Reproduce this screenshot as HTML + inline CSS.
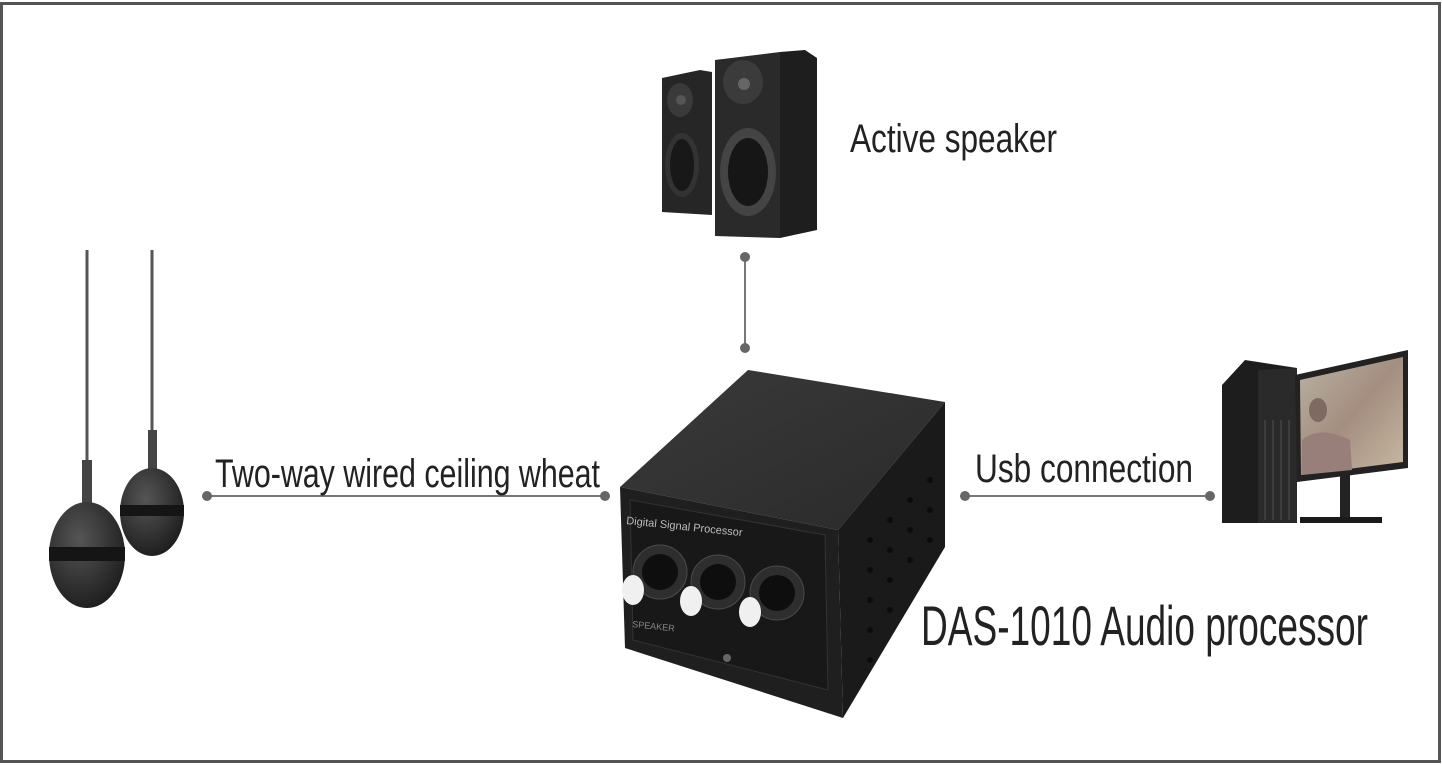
<!DOCTYPE html>
<html><head><meta charset="utf-8"><style>
html,body{margin:0;padding:0;background:#fff;}
svg{display:block;}
text{font-family:"Liberation Sans",sans-serif;fill:#222;}
</style></head><body>
<svg width="1442" height="765" viewBox="0 0 1442 765" xmlns="http://www.w3.org/2000/svg">
<defs>
<linearGradient id="top" x1="0" y1="0" x2="1" y2="1"><stop offset="0" stop-color="#3a3a3a"/><stop offset="1" stop-color="#2a2a2a"/></linearGradient>
<radialGradient id="ball" cx="0.4" cy="0.35" r="0.7"><stop offset="0" stop-color="#555"/><stop offset="1" stop-color="#1c1c1c"/></radialGradient>
<linearGradient id="scr" x1="0" y1="0" x2="1" y2="1"><stop offset="0" stop-color="#b9b2a3"/><stop offset="0.5" stop-color="#a48e80"/><stop offset="1" stop-color="#c8b9a2"/></linearGradient>
</defs>
<rect x="1.5" y="3.5" width="1438" height="758" fill="#fff" stroke="#555" stroke-width="3"/>

<!-- speakers -->
<polygon points="662,78 700,70 712,72 712,215 662,212" fill="#262626"/>
<ellipse cx="680" cy="100" rx="13" ry="17" fill="#3a3a3a"/>
<circle cx="681" cy="100" r="5" fill="#555"/>
<ellipse cx="682" cy="165" rx="17" ry="32" fill="#333"/>
<ellipse cx="682" cy="165" rx="12" ry="26" fill="#181818"/>
<polygon points="715,60 780,52 780,238 715,236" fill="#2a2a2a"/>
<polygon points="780,52 805,50 817,58 817,230 780,238" fill="#1e1e1e"/>
<ellipse cx="743" cy="82" rx="20" ry="22" fill="#3b3b3b"/>
<circle cx="744" cy="84" r="6" fill="#666"/>
<ellipse cx="748" cy="172" rx="28" ry="44" fill="#444"/>
<ellipse cx="748" cy="172" rx="20" ry="34" fill="#161616"/>

<text x="850" y="152" font-size="40" textLength="207" lengthAdjust="spacingAndGlyphs">Active speaker</text>

<!-- connectors -->
<line x1="745" y1="257" x2="745" y2="348" stroke="#777" stroke-width="2"/>
<circle cx="745" cy="257" r="5" fill="#666"/><circle cx="745" cy="348" r="5" fill="#666"/>
<line x1="207" y1="496" x2="605" y2="496" stroke="#777" stroke-width="2"/>
<circle cx="207" cy="496" r="5" fill="#666"/><circle cx="605" cy="496" r="5" fill="#666"/>
<line x1="965" y1="496" x2="1210" y2="496" stroke="#777" stroke-width="2"/>
<circle cx="965" cy="496" r="5" fill="#666"/><circle cx="1210" cy="496" r="5" fill="#666"/>

<text x="215" y="487" font-size="40" textLength="385" lengthAdjust="spacingAndGlyphs">Two-way wired ceiling wheat</text>
<text x="975" y="482" font-size="40" textLength="218" lengthAdjust="spacingAndGlyphs">Usb connection</text>
<text x="921" y="645" font-size="56" textLength="447" lengthAdjust="spacingAndGlyphs">DAS-1010 Audio processor</text>

<!-- mics -->
<line x1="87" y1="250" x2="87" y2="465" stroke="#555" stroke-width="3"/>
<line x1="152" y1="250" x2="152" y2="432" stroke="#555" stroke-width="3"/>
<rect x="82" y="460" width="10" height="45" fill="#444"/>
<rect x="148" y="430" width="9" height="40" fill="#444"/>
<ellipse cx="152" cy="512" rx="32" ry="44" fill="url(#ball)"/>
<rect x="120" y="505" width="64" height="11" fill="#151515"/>
<ellipse cx="87" cy="555" rx="38" ry="53" fill="url(#ball)"/>
<rect x="49" y="547" width="76" height="14" fill="#151515"/>

<!-- processor -->
<polygon points="620,487 748,370 945,402 838,530" fill="url(#top)"/>
<polygon points="838,530 945,402 945,547 843,718" fill="#1a1a1a"/>
<polygon points="620,487 838,530 843,718 625,648" fill="#1f1f1f"/>
<polygon points="630,500 825,535 828,690 633,640" fill="#181818" stroke="#333"/>
<g fill="#0c0c0c">
<circle cx="870" cy="540" r="3"/><circle cx="890" cy="520" r="3"/><circle cx="910" cy="500" r="3"/><circle cx="930" cy="480" r="3"/>
<circle cx="870" cy="570" r="3"/><circle cx="890" cy="550" r="3"/><circle cx="910" cy="530" r="3"/><circle cx="930" cy="510" r="3"/>
<circle cx="870" cy="600" r="3"/><circle cx="890" cy="580" r="3"/><circle cx="910" cy="560" r="3"/><circle cx="930" cy="540" r="3"/>
<circle cx="870" cy="630" r="3"/><circle cx="890" cy="610" r="3"/><circle cx="870" cy="660" r="3"/>
</g>
<text x="626" y="524" font-size="11" style="fill:#bbb" transform="rotate(6 626 524)">Digital Signal Processor</text>
<g>
<circle cx="660" cy="572" r="27" fill="#2e2e2e" stroke="#4a4a4a"/><circle cx="660" cy="572" r="18" fill="#0e0e0e"/>
<ellipse cx="633" cy="590" rx="11" ry="15" fill="#f0f0f0"/>
<circle cx="718" cy="582" r="27" fill="#2e2e2e" stroke="#4a4a4a"/><circle cx="718" cy="582" r="18" fill="#0e0e0e"/>
<ellipse cx="691" cy="601" rx="11" ry="15" fill="#f0f0f0"/>
<circle cx="777" cy="593" r="27" fill="#2e2e2e" stroke="#4a4a4a"/><circle cx="777" cy="593" r="18" fill="#0e0e0e"/>
<ellipse cx="750" cy="612" rx="11" ry="15" fill="#f0f0f0"/>
</g>
<text x="632" y="627" font-size="9" style="fill:#888" transform="rotate(6 632 627)">SPEAKER</text>
<circle cx="727" cy="658" r="4" fill="#666"/>

<!-- computer -->
<polygon points="1222,385 1245,360 1297,368 1297,523 1222,523" fill="#1d1d1d"/>
<polygon points="1258,370 1297,368 1297,523 1258,523" fill="#2a2a2a"/>
<g stroke="#444" stroke-width="1.5"><line x1="1265" y1="420" x2="1265" y2="520"/><line x1="1273" y1="420" x2="1273" y2="520"/><line x1="1281" y1="420" x2="1281" y2="520"/><line x1="1289" y1="420" x2="1289" y2="520"/></g>
<polygon points="1295,375 1408,350 1408,468 1297,482" fill="#222"/>
<polygon points="1300,380 1403,357 1403,462 1301,475" fill="url(#scr)"/>
<ellipse cx="1318" cy="410" rx="9" ry="12" fill="#7e6a60"/>
<path d="M1302,475 L1302,440 Q1320,425 1350,440 L1352,470 Z" fill="#987f7a"/>
<rect x="1340" y="475" width="10" height="45" fill="#222"/>
<rect x="1300" y="517" width="82" height="6" fill="#1a1a1a"/>
</svg>
</body></html>
